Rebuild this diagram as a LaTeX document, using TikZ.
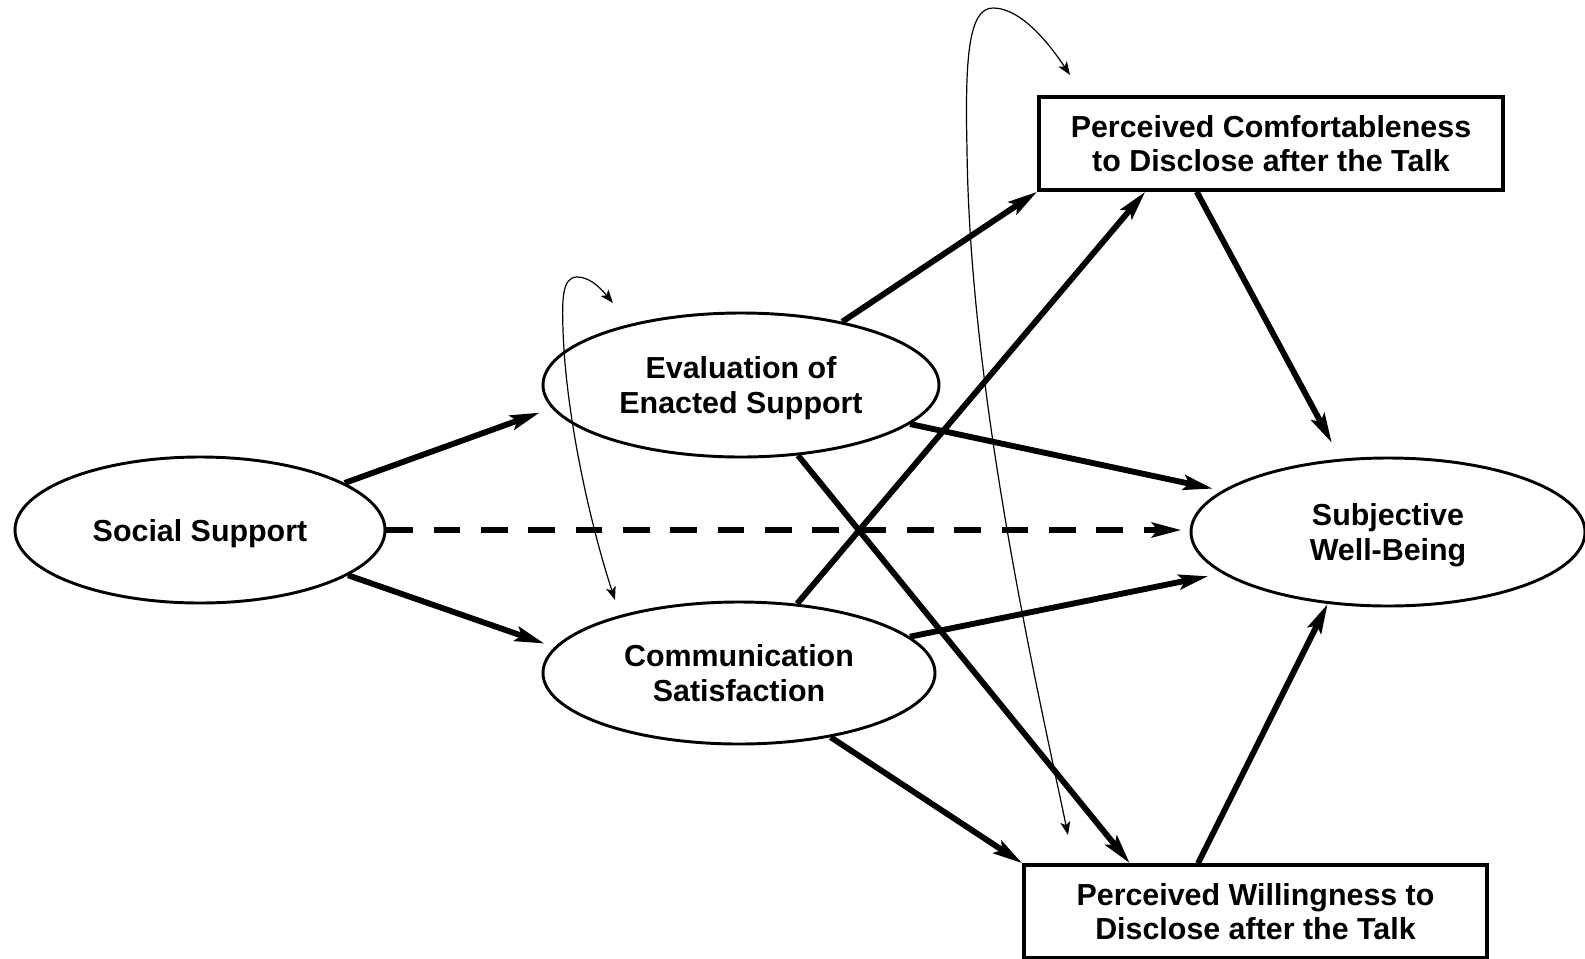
\documentclass[tikz,border=0pt]{standalone}
\usepackage{fontspec}
\setmainfont{Liberation Sans}
\usetikzlibrary{arrows.meta,shapes.geometric,calc}
\newcommand\lblfont{\fontsize{22.8}{25.9}\selectfont\bfseries}
\begin{document}
\begin{tikzpicture}[x=0.75pt,y=-0.75pt,
  lat/.style={ellipse,draw,line width=2.2pt,inner sep=0pt,align=center,font=\lblfont,text depth=0pt},
  obs/.style={rectangle,draw,line width=2.6pt,inner sep=0pt,align=center,font=\lblfont,text depth=0pt,
              minimum width=348pt,minimum height=69.75pt},
  pathar/.style={line width=4.4pt,-{Stealth[length=22pt,width=11pt,inset=4pt]}},
  dasharr/.style={line width=4.4pt,dash pattern=on 20pt off 15.5pt,dash phase=0pt,
              -{Stealth[length=22pt,width=11pt,inset=4pt]}},
  cov/.style={line width=0.9pt,
              {Stealth[length=10pt,width=7.5pt,inset=2.5pt]}-{Stealth[length=10pt,width=7.5pt,inset=2.5pt]}}]
\useasboundingbox (0,0) rectangle (1585,958);

\node[lat,minimum width=277.5pt,minimum height=109.5pt] (ss) at (200,530) {Social Support};
\node[lat,minimum width=297pt,minimum height=108pt] (ees) at (741,385) {Evaluation of\\Enacted Support};
\node[lat,minimum width=294pt,minimum height=106.5pt] (cs) at (739,673) {Communication\\Satisfaction};
\node[lat,minimum width=295.5pt,minimum height=111pt] (swb) at (1388,532) {Subjective\\Well-Being};
\node[obs] (pc) at (1271,143.5) {Perceived Comfortableness\\to Disclose after the Talk};
\node[obs,minimum width=347.25pt] (pw) at (1255.5,911.5) {Perceived Willingness to\\Disclose after the Talk};

\draw[pathar,shorten >=9.5pt] (ss.18.4) -- (ees.187.8);
\draw[pathar,shorten >=8pt] (ss.-17.7) -- (cs.172.4);
\draw[dasharr,shorten >=6pt] (ss.east) -- (ss.east -| swb.west);
\draw[pathar] (ees.32.4) -- (pc.south west);
\draw[pathar,shorten >=7pt] (ees.-13.5) -- (swb.166.5);
\draw[pathar] (ees.-51.3) -- (pw.159.2);
\draw[pathar] (cs.50) -- (pc.201.5);
\draw[pathar,shorten >=10.5pt] (cs.12.3) -- (swb.194.7);
\draw[pathar] (cs.-35.6) -- (pw.north west);
\draw[pathar,shorten >=13.5pt] (pc.213.6) -- (swb.123.7);
\draw[pathar] (pw.140.5) -- (swb.230.8);

\coordinate (cA1) at (613,303);
\coordinate (cA2) at (615,600);
\coordinate (cB1) at (1070,75);
\coordinate (cB2) at (1068,835);
\draw[cov] (cA1) .. controls (598,285) and (588,277) .. (577,277)
  .. controls (562,277) and (562,300) .. (563,330)
  .. controls (566,420) and (592,530) .. (cA2);
\draw[cov] (cB1) .. controls (1040,30) and (1015,8) .. (993,8)
  .. controls (968,8) and (965,60) .. (967,150)
  .. controls (970,400) and (1040,700) .. (cB2);
\end{tikzpicture}
\end{document}
